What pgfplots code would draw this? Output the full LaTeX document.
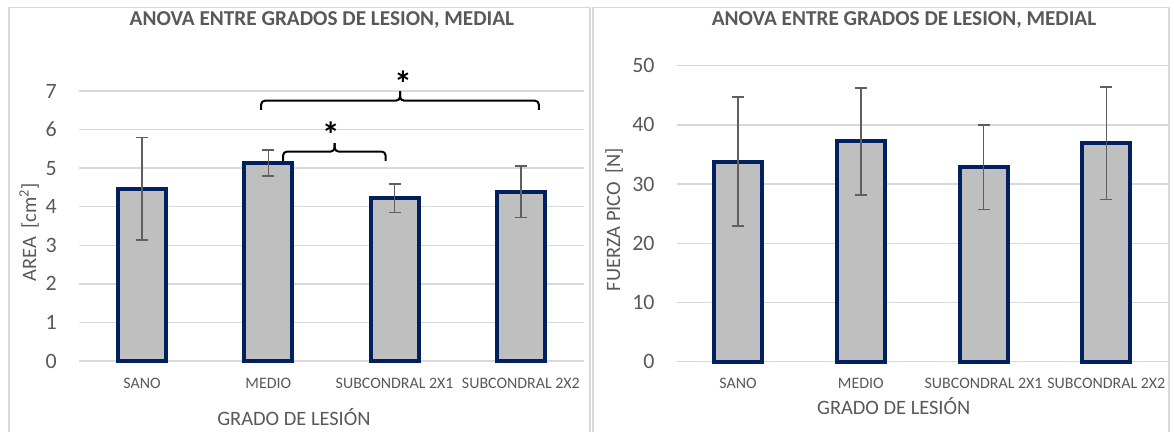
\documentclass[border=0pt]{standalone}
\usepackage{fontspec}
\setmainfont{Carlito}
\usepackage{pgfplots}
\pgfplotsset{compat=1.18}
\definecolor{barfill}{HTML}{BFBFBF}
\definecolor{baredge}{HTML}{002060}
\definecolor{errgray}{HTML}{5F5F5F}
\definecolor{gridgray}{HTML}{D9D9D9}
\definecolor{txtgray}{HTML}{595959}
\pgfplotsset{mystyle/.style={
  scale only axis, anchor=south west,
  xmin=-0.5, xmax=3.5, ymin=0,
  xtick={0,1,2,3},
  xticklabels={SANO,MEDIO,SUBCONDRAL 2X1,SUBCONDRAL 2X2},
  axis line style={draw=none},
  major tick length=0pt,
  ymajorgrids, grid style={gridgray, line width=1.3bp},
  tick label style={text=txtgray},
  xticklabel style={font=\fontsize{16}{19}\selectfont, anchor=base, inner sep=0pt, yshift=-27bp},
  yticklabel style={font=\fontsize{22}{26}\selectfont, anchor=east, inner sep=0pt, xshift=-22bp},
  /pgf/number format/assume math mode=true,
  label style={text=txtgray, font=\fontsize{20.5}{24}\selectfont},
  title style={text=txtgray, font=\bfseries\fontsize{21.3}{25}\selectfont, anchor=base},
  ybar, bar width=48bp,
  clip=false,
  error bars/error bar style={errgray, line width=1.6bp},
  error bars/error mark options={rotate=90, mark size=6bp, line width=1.6bp, errgray},
}}
\begin{document}
\begin{tikzpicture}[x=1bp,y=1bp]
\useasboundingbox (0,0) rectangle (1174,431);
\fill[white] (0,0) rectangle (1174,431);
\draw[gridgray, line width=1.3bp] (9,-5) -- (9,423.7) -- (590,423.7) -- (590,-5);
\draw[gridgray, line width=1.3bp] (593,-5) -- (593,423.7) -- (1169,423.7) -- (1169,-5);

\begin{axis}[mystyle,
  at={(79bp,70bp)}, width=505bp, height=270bp,
  ymax=7, ytick={0,1,2,3,4,5,6,7},
  title={ANOVA ENTRE GRADOS DE LESION, MEDIAL},
  title style={at={(axis description cs:0.481,1.222)}},
  xlabel={GRADO DE LESIÓN},
  xlabel style={at={(axis description cs:0.4257,-0.2407)}, anchor=base},
  ylabel={AREA\hspace{8bp}[cm\textsuperscript{2}]},
  ylabel style={at={(axis description cs:-0.0851,0.476)}, anchor=base},
]
\addplot[fill=barfill, draw=baredge, line width=4bp,
  error bars/.cd, y dir=both, y explicit]
  coordinates {(0,4.465) +- (0,1.33) (1,5.135) +- (0,0.335) (2,4.22) +- (0,0.375) (3,4.39) +- (0,0.67)};
\draw[black, line width=2bp, rounded corners=4bp] (axis cs:0.942,6.51) -- (axis cs:0.942,6.75) -- (axis cs:2.043,6.75) -- (axis cs:2.043,7.0);
\draw[black, line width=2bp, rounded corners=4bp] (axis cs:3.143,6.51) -- (axis cs:3.143,6.75) -- (axis cs:2.043,6.75) -- (axis cs:2.043,7.0);
\draw[black, line width=2bp, rounded corners=4bp] (axis cs:1.116,5.19) -- (axis cs:1.116,5.43) -- (axis cs:1.525,5.43) -- (axis cs:1.525,5.65);
\draw[black, line width=2bp, rounded corners=4bp] (axis cs:1.929,5.19) -- (axis cs:1.929,5.43) -- (axis cs:1.525,5.43) -- (axis cs:1.525,5.65);
\node[font=\bfseries\fontsize{36}{40}\selectfont] at (axis cs:2.066,7.2) {*};
\node[font=\bfseries\fontsize{36}{40}\selectfont] at (axis cs:1.494,5.87) {*};
\end{axis}

\begin{axis}[mystyle,
  at={(676.7bp,69.3bp)}, width=491bp, height=296bp,
  ymax=50, ytick={0,10,20,30,40,50},
  title={ANOVA ENTRE GRADOS DE LESION, MEDIAL},
  title style={at={(axis description cs:0.463,1.117)}},
  xlabel={GRADO DE LESIÓN},
  xlabel style={at={(axis description cs:0.442,-0.180)}, anchor=base},
  ylabel={FUERZA PICO\hspace{8bp}[N]},
  ylabel style={at={(axis description cs:-0.1155,0.480)}, anchor=base},
]
\addplot[fill=barfill, draw=baredge, line width=4bp,
  error bars/.cd, y dir=both, y explicit]
  coordinates {(0,33.8) +- (0,10.9) (1,37.2) +- (0,9.0) (2,32.85) +- (0,7.15) (3,36.9) +- (0,9.5)};
\end{axis}
\end{tikzpicture}
\end{document}
